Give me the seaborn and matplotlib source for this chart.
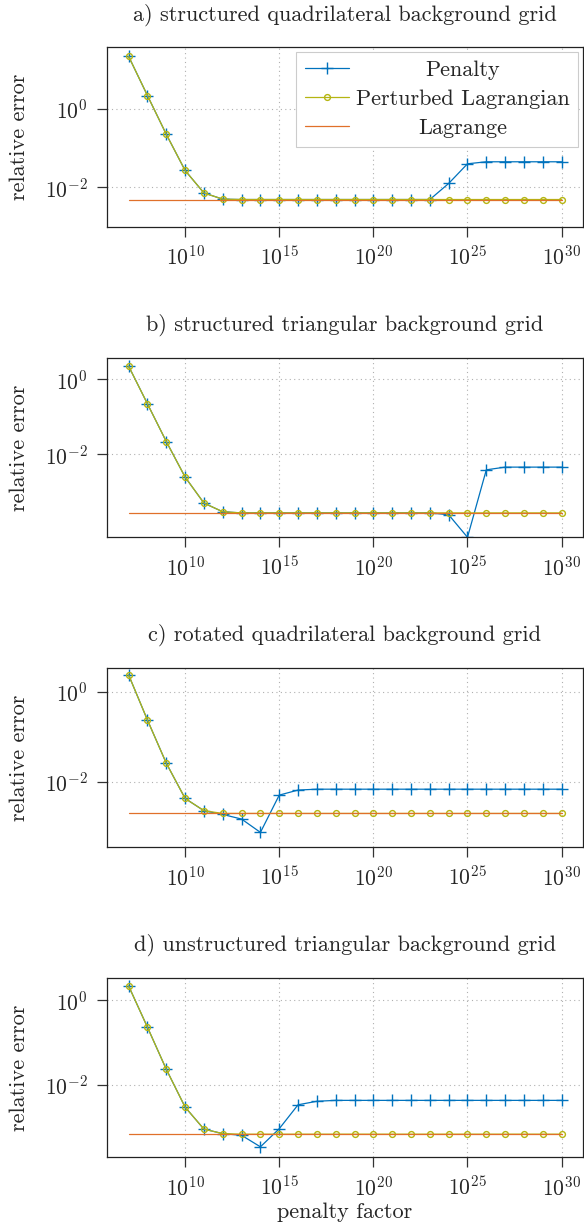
import numpy as np
import pandas as pd
import matplotlib
matplotlib.use("Agg")
import matplotlib.pyplot as plt
import matplotlib.ticker as mticker
import seaborn as sns

# ---------------- data ----------------
penalty_factor = [1e7, 1e8, 1e9, 1e10, 1e11, 1e12, 1e13, 1e14, 1e15, 1e16, 1e17, 1e18,
                  1e19, 1e20, 1e21, 1e22, 1e23, 1e24, 1e25, 1e26, 1e27, 1e28, 1e29, 1e30]

titles = ["a) structured quadrilateral background grid",
          "b) structured triangular background grid",
          "c) rotated quadrilateral background grid",
          "d) unstructured triangular background grid"]

penalty_a = [22, 2.2, 0.226, 0.027, 0.0072, 0.0050, 0.0049, 0.0049, 0.0049, 0.0049, 0.0049, 0.0049,
             0.0049, 0.0049, 0.0049, 0.0049, 0.0049, 0.0126, 0.040, 0.045, 0.045, 0.045, 0.045, 0.045]
perturbed_a = [22, 2.2, 0.226, 0.027, 0.0072, 0.0050, 0.0049, 0.0049, 0.0049, 0.0049, 0.0049, 0.0049,
               0.0049, 0.0049, 0.0049, 0.0049, 0.0049, 0.0049, 0.0049, 0.0049, 0.0049, 0.0049, 0.0049, 0.0049]

penalty_b = [2.2, 0.22, 0.022, 0.0025, 5.1e-4, 3.0e-4, 2.8e-4, 2.8e-4, 2.8e-4, 2.8e-4, 2.8e-4, 2.8e-4,
             2.8e-4, 2.8e-4, 2.8e-4, 2.8e-4, 2.8e-4, 2.5e-4, 6.3e-5, 0.0039, 0.0046, 0.0046, 0.0046, 0.0046]
perturbed_b = [2.2, 0.22, 0.022, 0.0025, 5.1e-4, 3.0e-4, 2.8e-4, 2.8e-4, 2.8e-4, 2.8e-4, 2.8e-4, 2.8e-4,
               2.8e-4, 2.8e-4, 2.8e-4, 2.8e-4, 2.8e-4, 2.8e-4, 2.8e-4, 2.8e-4, 2.8e-4, 2.8e-4, 2.8e-4, 2.8e-4]

penalty_c = [2.35, 0.235, 0.026, 0.0043, 0.0023, 0.0019, 0.0015, 7.6e-4, 0.0051, 0.0066, 0.0069, 0.0069,
             0.0069, 0.0069, 0.0069, 0.0069, 0.0069, 0.0069, 0.0069, 0.0069, 0.0069, 0.0069, 0.0069, 0.0069]
perturbed_c = [2.35, 0.235, 0.026, 0.0043, 0.0023, 0.0020, 0.0020, 0.0020, 0.0020, 0.0020, 0.0020, 0.0020,
               0.0020, 0.0020, 0.0020, 0.0020, 0.0020, 0.0020, 0.0020, 0.0020, 0.0020, 0.0020, 0.0020, 0.0020]

penalty_d = [2.2, 0.23, 0.023, 0.0029, 8.7e-4, 6.8e-4, 6.2e-4, 3.3e-4, 8.9e-4, 0.0033, 0.0040, 0.0042,
             0.0042, 0.0042, 0.0042, 0.0042, 0.0042, 0.0042, 0.0042, 0.0042, 0.0042, 0.0042, 0.0042, 0.0042]
perturbed_d = [2.2, 0.23, 0.023, 0.0029, 8.7e-4, 6.8e-4, 6.6e-4, 6.6e-4, 6.6e-4, 6.6e-4, 6.6e-4, 6.6e-4,
               6.6e-4, 6.6e-4, 6.6e-4, 6.6e-4, 6.6e-4, 6.6e-4, 6.6e-4, 6.6e-4, 6.6e-4, 6.6e-4, 6.6e-4, 6.6e-4]

lagrange = [0.0049, 2.8e-4, 0.0020, 6.6e-4]

penalty_all = [penalty_a, penalty_b, penalty_c, penalty_d]
perturbed_all = [perturbed_a, perturbed_b, perturbed_c, perturbed_d]

ylims = [(9.8e-4, 37.6), (6.3e-5, 3.7), (3.55e-4, 3.41), (1.86e-4, 3.47)]
xticks = [1e10, 1e15, 1e20, 1e25, 1e30]
yticks = [1e-2, 1e0]

# ---------------- style ----------------
sns.set_theme(style="white")
FS = 16
TFS = 15.5
plt.rcParams.update({
    "font.family": ["serif"],
    "font.serif": ["cmr10", "DejaVu Serif"],
    "mathtext.fontset": "cm",
    "axes.formatter.use_mathtext": True,
    "font.size": FS,
    "axes.edgecolor": "#222222",
    "axes.linewidth": 0.9,
})

c_pen = "#0072BD"
c_pl = "#b5b512"
c_lag = "#e0702a"

W, H = 584, 1227
fig = plt.figure(figsize=(W / 100, H / 100), dpi=100)

left = 107 / W
width = (582.7 - 107) / W
tops = [47.3, 357.7, 667.7, 977.7]
ah = 179.6

leg = None
for i in range(4):
    bottom = 1 - (tops[i] + ah) / H
    ax = fig.add_axes([left, bottom, width, ah / H])
    ax.set_xscale("log")
    ax.set_yscale("log")

    df = pd.DataFrame({"x": penalty_factor,
                       "pen": penalty_all[i],
                       "pl": perturbed_all[i],
                       "lag": [lagrange[i]] * len(penalty_factor)})

    sns.lineplot(data=df, x="x", y="pen", ax=ax, color=c_pen, lw=0.9,
                 marker="+", markersize=9, markeredgewidth=1.0,
                 markeredgecolor=c_pen, label="Penalty", estimator=None)
    sns.lineplot(data=df, x="x", y="pl", ax=ax, color=c_pl, lw=0.9,
                 marker="o", markersize=4.2, markeredgewidth=1.0,
                 markerfacecolor="none", markeredgecolor=c_pl,
                 label="Perturbed Lagrangian", estimator=None)
    sns.lineplot(data=df, x="x", y="lag", ax=ax, color=c_lag, lw=0.9,
                 label="Lagrange", estimator=None)

    ax.set_ylim(*ylims[i])
    ax.set_xlim(10 ** 5.85, 10 ** 31.12)
    ax.xaxis.set_major_locator(mticker.FixedLocator(xticks))
    ax.xaxis.set_minor_locator(mticker.NullLocator())
    ax.yaxis.set_major_locator(mticker.FixedLocator(yticks))
    ax.yaxis.set_minor_locator(mticker.NullLocator())
    ax.xaxis.set_major_formatter(mticker.LogFormatterSciNotation())
    ax.yaxis.set_major_formatter(mticker.LogFormatterSciNotation())
    ax.tick_params(axis="both", which="major", direction="out", length=7.5,
                   width=0.9, color="#333333", labelsize=TFS,
                   bottom=True, left=True)
    ax.tick_params(axis="x", pad=5.5)
    ax.tick_params(axis="y", pad=6.5)
    ax.grid(True, which="major", color="#b0b0b0", linestyle=(0, (1, 3)), lw=0.8)
    ax.set_axisbelow(True)
    ax.set_title(titles[i], fontsize=FS, pad=19.5)
    ax.set_ylabel("relative error", fontsize=FS, labelpad=11)
    ax.set_xlabel("penalty factor" if i == 3 else "", fontsize=FS, labelpad=2.5)

    if i == 0:
        leg = ax.legend(loc="upper right", frameon=True, fancybox=False,
                        edgecolor="#cccccc", framealpha=1.0, fontsize=FS,
                        handlelength=2.0, handletextpad=0.3, labelspacing=0.42,
                        borderpad=0.4, borderaxespad=0.2)
        leg.get_frame().set_linewidth(0.8)
    else:
        lg = ax.get_legend()
        if lg is not None:
            lg.remove()

# center the legend texts within their column (pgfplots style)
fig.canvas.draw()
renderer = fig.canvas.get_renderer()
texts = leg.get_texts()
widths = [t.get_window_extent(renderer).width for t in texts]
maxw = max(widths)
for t, w in zip(texts, widths):
    t.set_x((maxw - w) / 2)

fig.savefig("out.png", dpi=100)
